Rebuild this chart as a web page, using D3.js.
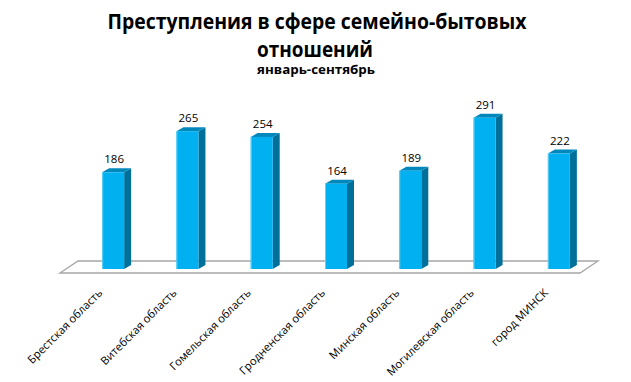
<!DOCTYPE html>
<html><head><meta charset="utf-8">
<script src="https://cdn.jsdelivr.net/npm/d3@7"></script>
<style>
html,body{margin:0;padding:0;background:#fff;}
svg{display:block;}
</style></head>
<body>
<svg id="chart" width="631" height="382"></svg>
<script>
const categories = ["Брестская область","Витебская область","Гомельская область","Гродненская область","Минская область","Могилевская область","город  МИНСК"];
const values = [186, 265, 254, 164, 189, 291, 222];
const titleLines = ["Преступления в сфере семейно-бытовых", "отношений"];
const subtitle = "январь-сентябрь";

const W = 631, H = 382;
const svg = d3.select("#chart");
const font = "'Open Sans', 'Noto Sans', 'DejaVu Sans', sans-serif";

const x = d3.scaleBand().domain(categories).range([76, 596]).padding(0);
const y = d3.scaleLinear().domain([0, 300]).range([269, 113]);

const barW = 22, dX = 7, dY = 4;

// floor
const floorY0 = 261, floorY1 = 273;
svg.append("path")
  .attr("d", `M60,${floorY1} L78,${floorY0} L598,${floorY0} L580,${floorY1} Z`)
  .attr("fill", "#fff").attr("stroke", "#a6a6a6").attr("stroke-width", 1.3);

// bars
const g = svg.append("g");
categories.forEach((c, i) => {
  const cx = x(c) + x.bandwidth() / 2;
  const x0 = cx - barW / 2, x1 = cx + barW / 2;
  const yt = y(values[i]), yb = y(0);
  g.append("path").attr("d", `M${x1},${yt} L${x1+dX},${yt-dY} L${x1+dX},${yb-dY} L${x1},${yb} Z`)
    .attr("fill", "#006f99");
  g.append("path").attr("d", `M${x0},${yt} L${x0+dX},${yt-dY} L${x1+dX},${yt-dY} L${x1},${yt} Z`)
    .attr("fill", "#0088bd");
  g.append("rect").attr("x", x0).attr("y", yt).attr("width", barW).attr("height", yb - yt)
    .attr("fill", "#00b0f0");
  g.append("line").attr("x1", x0+0.5).attr("x2", x0+0.5).attr("y1", yt).attr("y2", yb)
    .attr("stroke", "#5fd0f7").attr("stroke-width", 1);
  g.append("text").attr("x", cx + 1).attr("y", yt - 9)
    .attr("text-anchor", "middle").attr("font-family", font).attr("font-size", 11.5)
    .attr("fill", "#000").text(values[i]);
});

// category labels
categories.forEach((c) => {
  const cx = x(c) + x.bandwidth() / 2;
  const ax = cx - 10, ay = 293.5;
  svg.append("text").attr("transform", `translate(${ax},${ay}) rotate(-45)`)
    .attr("text-anchor", "end").attr("font-family", font).attr("font-size", 11.2)
    .attr("fill", "#000").text(c);
});

// title
svg.append("text").attr("x", 317).attr("y", 29).attr("text-anchor", "middle")
  .attr("font-family", font).attr("font-weight", "bold").attr("font-size", 21)
  .attr("textLength", 419).attr("lengthAdjust", "spacingAndGlyphs").text(titleLines[0]);
svg.append("text").attr("x", 315).attr("y", 57).attr("text-anchor", "middle")
  .attr("font-family", font).attr("font-weight", "bold").attr("font-size", 21)
  .attr("textLength", 116).attr("lengthAdjust", "spacingAndGlyphs").text(titleLines[1]);
svg.append("text").attr("x", 316).attr("y", 74).attr("text-anchor", "middle")
  .attr("font-family", font).attr("font-weight", "bold").attr("font-size", 11.5)
  .attr("textLength", 118).attr("lengthAdjust", "spacingAndGlyphs").text(subtitle);
</script>
</body></html>
